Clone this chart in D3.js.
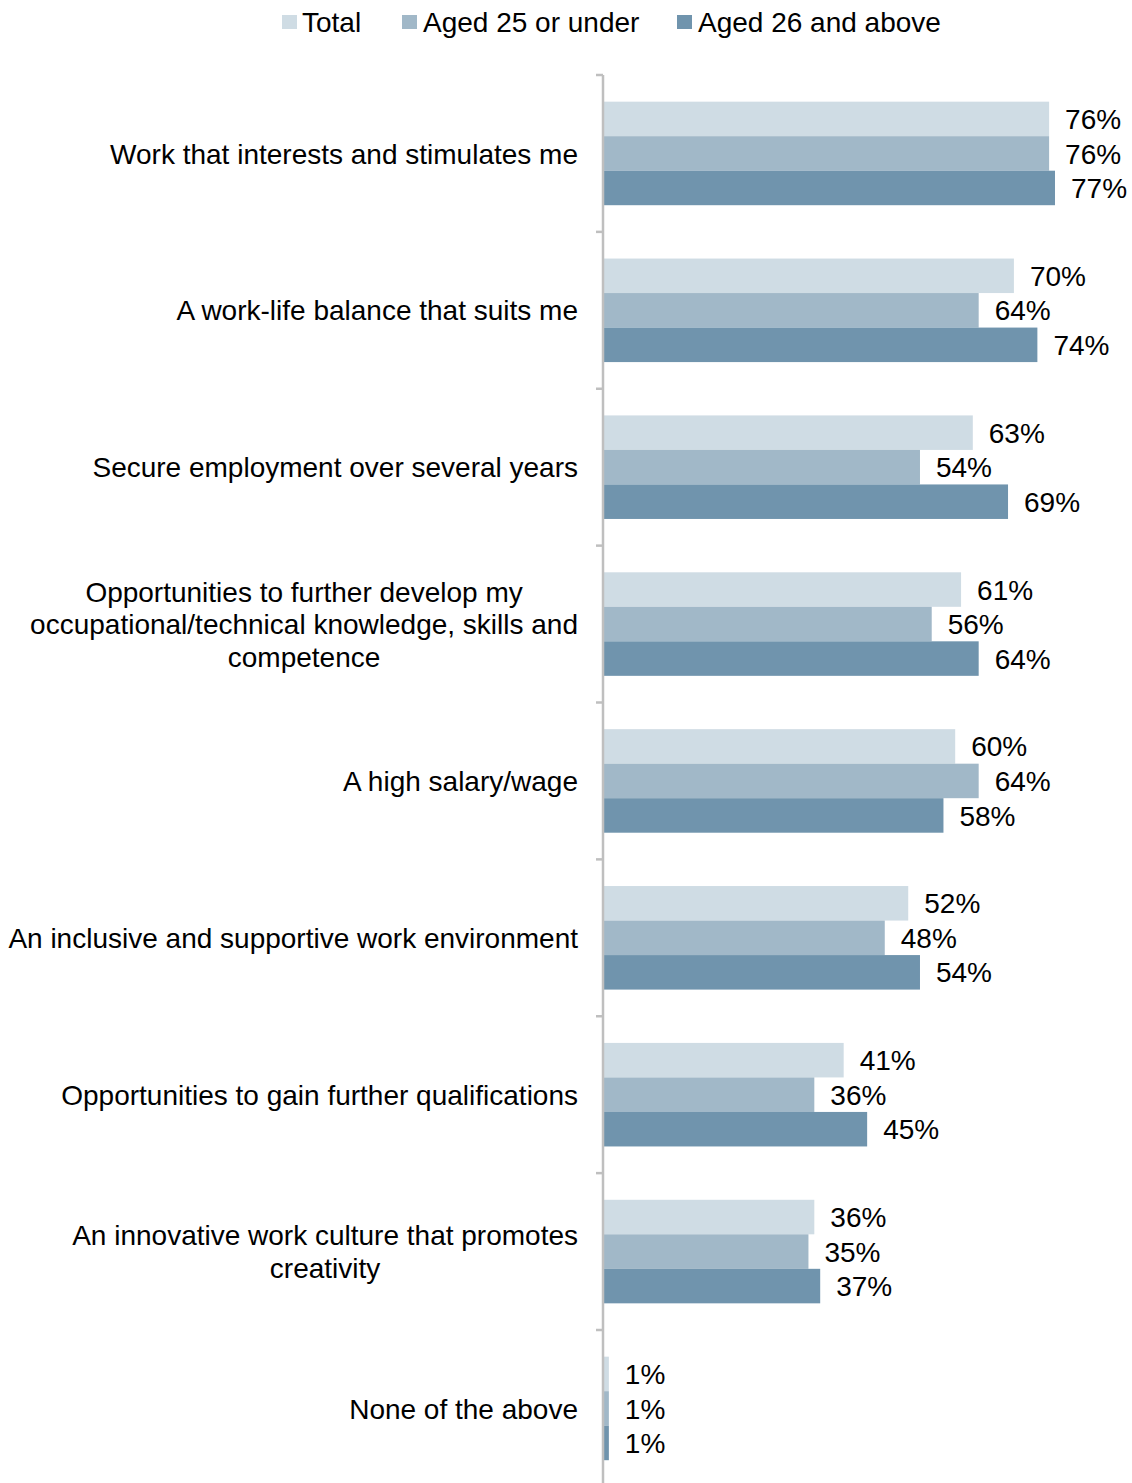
<!DOCTYPE html>
<html>
<head>
<meta charset="utf-8">
<script src="https://cdn.jsdelivr.net/npm/d3@7"></script>
<style>
  html, body { margin: 0; padding: 0; background: #fff; }
  svg { display: block; font-family: "Liberation Sans", Arial, sans-serif; }
</style>
</head>
<body>
<svg id="chart" width="1132" height="1483"></svg>
<script>
// Workplace priorities, share of respondents (%)
const categories = [
  ["Work that interests and stimulates me"],
  ["A work-life balance that suits me"],
  ["Secure employment over several years"],
  ["Opportunities to further develop my", "occupational/technical knowledge, skills and", "competence"],
  ["A high salary/wage"],
  ["An inclusive and supportive work environment"],
  ["Opportunities to gain further qualifications"],
  ["An innovative work culture that promotes", "creativity"],
  ["None of the above"]
];
const seriesNames = ["Total", "Aged 25 or under", "Aged 26 and above"];
const totalValues   = [76, 70, 63, 61, 60, 52, 41, 36, 1];
const under25Values = [76, 64, 54, 56, 64, 48, 36, 35, 1];
const over26Values  = [77, 74, 69, 64, 58, 54, 45, 37, 1];
const seriesColors  = ["#cfdce4", "#a1b8c8", "#7094ad"];

const seriesValues = [totalValues, under25Values, over26Values];

const svg = d3.select("#chart");
const fontSize = 28;

const plotLeft = 603;
const plotTop = 75;
const step = 156.875;
const plotBottom = plotTop + step * categories.length;

// Category bands
const y = d3.scaleBand()
  .domain(d3.range(categories.length))
  .range([plotTop, plotBottom])
  .paddingInner(0.34)
  .paddingOuter(0.17);

// Series within each band
const ySub = d3.scaleBand()
  .domain(d3.range(seriesNames.length))
  .range([0, y.bandwidth()]);

const x = d3.scaleLinear().domain([0, 100]).range([plotLeft, plotLeft + 587]);

// Bars with value labels
const groups = svg.append("g").selectAll("g")
  .data(categories)
  .join("g")
  .attr("transform", (d, i) => `translate(0,${y(i)})`);

groups.each(function(d, i) {
  const g = d3.select(this);
  seriesValues.forEach((vals, s) => {
    g.append("rect")
      .attr("x", x(0))
      .attr("y", ySub(s))
      .attr("width", x(vals[i]) - x(0))
      .attr("height", ySub.bandwidth())
      .attr("fill", seriesColors[s]);
    g.append("text")
      .attr("x", x(vals[i]) + 16)
      .attr("y", ySub(s) + ySub.bandwidth() / 2)
      .attr("dy", "0.36em")
      .attr("font-size", fontSize)
      .attr("fill", "#000")
      .text(vals[i] + "%");
  });
});

// Category axis (line and ticks at band boundaries)
const axisG = svg.append("g");
axisG.append("line")
  .attr("x1", plotLeft).attr("x2", plotLeft)
  .attr("y1", plotTop).attr("y2", plotBottom)
  .attr("stroke", "#bfbfbf").attr("stroke-width", 2.5);
axisG.selectAll("line.tick")
  .data(d3.range(categories.length + 1))
  .join("line")
  .attr("class", "tick")
  .attr("x1", plotLeft - 7).attr("x2", plotLeft)
  .attr("y1", i => plotTop + i * step).attr("y2", i => plotTop + i * step)
  .attr("stroke", "#bfbfbf").attr("stroke-width", 2.5);

// Category labels: block right-aligned, lines centred within block
const labelRight = 578;
const lineHeight = 32.5;
categories.forEach((lines, i) => {
  const cy = y(i) + y.bandwidth() / 2;
  const g = svg.append("g");
  const texts = lines.map((ln, k) => g.append("text")
    .attr("font-size", fontSize)
    .attr("fill", "#000")
    .attr("y", cy + (k - (lines.length - 1) / 2) * lineHeight)
    .attr("dy", "0.36em")
    .text(ln));
  const widths = texts.map(t => t.node().getComputedTextLength());
  const maxW = d3.max(widths);
  const centre = labelRight - maxW / 2;
  texts.forEach(t => t.attr("x", centre).attr("text-anchor", "middle"));
});

// Legend
const legendItems = [
  { sq: 282, tx: 302 },
  { sq: 402, tx: 423 },
  { sq: 677, tx: 698 }
];
const legend = svg.append("g");
seriesNames.forEach((name, s) => {
  legend.append("rect")
    .attr("x", legendItems[s].sq).attr("y", 15)
    .attr("width", 15).attr("height", 14)
    .attr("fill", seriesColors[s]);
  legend.append("text")
    .attr("x", legendItems[s].tx).attr("y", 32)
    .attr("font-size", fontSize)
    .attr("fill", "#000")
    .text(name);
});
</script>
</body>
</html>
